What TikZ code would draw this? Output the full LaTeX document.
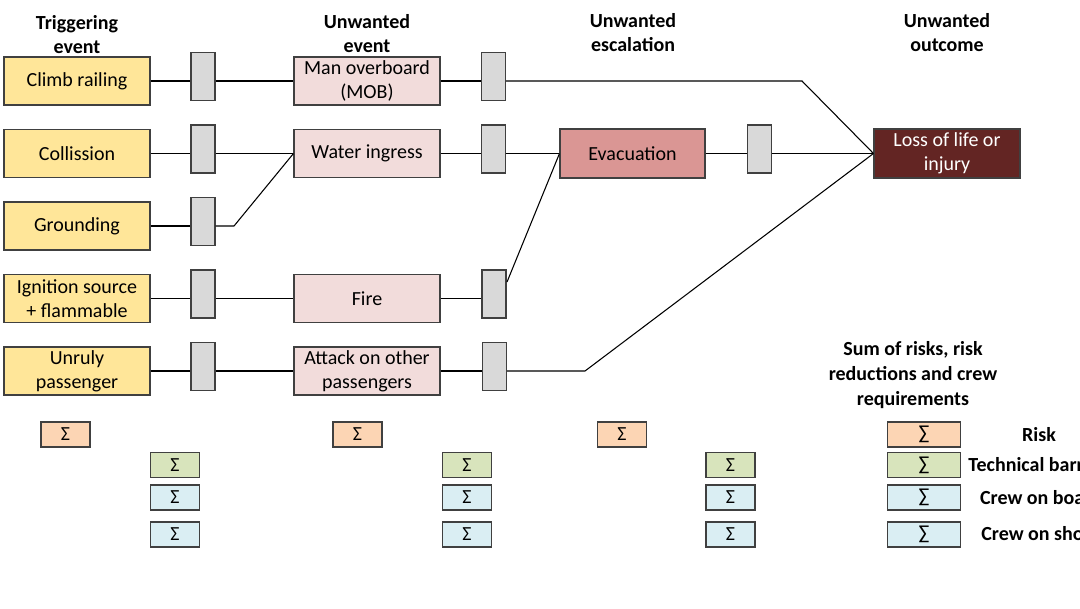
\documentclass[tikz,border=0pt]{standalone}
\usepackage{fontspec}
\setmainfont{Carlito}
\begin{document}
\begin{tikzpicture}[x=0.75pt,y=-0.75pt,
  every node/.style={font=\fontsize{15}{18}\selectfont, align=center, inner sep=0pt},
  bx/.style={draw=black!75, line width=0.8pt, rectangle},
  trig/.style={bx, fill=trigfill, minimum width=109.5pt, minimum height=36pt},
  uev/.style={bx, fill=uevfill, minimum width=109.5pt, minimum height=36pt},
  bar/.style={bx, fill=barfill, minimum width=18pt, minimum height=36pt},
  sig/.style={bx, minimum width=36.75pt, minimum height=18.75pt},
  sigr/.style={bx, minimum width=54.4pt, minimum height=18.75pt},
  hdr/.style={font=\fontsize{15}{18}\selectfont\bfseries},
  lbl/.style={font=\fontsize{15}{18}\selectfont\bfseries, anchor=center},
  ln/.style={line width=0.8pt, black}
]
\definecolor{trigfill}{HTML}{FFE699}
\definecolor{uevfill}{HTML}{F2DCDB}
\definecolor{barfill}{HTML}{D9D9D9}
\definecolor{evacfill}{HTML}{DA9694}
\definecolor{lossfill}{HTML}{632523}
\definecolor{riskfill}{HTML}{FCD5B4}
\definecolor{techfill}{HTML}{D8E4BC}
\definecolor{crewfill}{HTML}{DAEEF3}
\useasboundingbox (0,0) rectangle (1080,608);
\clip (0,0) rectangle (1080,608);

% headers
\node[hdr] (h1) at (77,35) {Triggering\\event};
\node[hdr] (h2) at (367,34) {Unwanted\\event};
\node[hdr] (h3) at (633,33) {Unwanted\\escalation};
\node[hdr] (h4) at (947,33) {Unwanted\\outcome};

% triggering events
\node[trig] (t1) at (77,81) {Climb railing};
\node[trig] (t2) at (77,153.5) {Collission};
\node[trig] (t3) at (77,226) {Grounding};
\node[trig] (t4) at (77,298.5) {Ignition source\\+ flammable};
\node[trig] (t5) at (77,371) {Unruly\\passenger};

% first barriers
\node[bar] (b11) at (203,76.5) {};
\node[bar] (b21) at (203,149) {};
\node[bar] (b31) at (203,221.5) {};
\node[bar] (b41) at (203,294) {};
\node[bar] (b51) at (203,366.5) {};

% unwanted events
\node[uev] (e1) at (367,81) {Man overboard\\(MOB)};
\node[uev] (e2) at (367,153.5) {Water ingress};
\node[uev] (e4) at (367,298.5) {Fire};
\node[uev] (e5) at (367,371) {Attack on other\\passengers};

% second barriers
\node[bar] (b12) at (493.5,76.5) {};
\node[bar] (b22) at (493.5,149) {};
\node[bar] (b42) at (494,294) {};
\node[bar] (b52) at (494.5,366.5) {};

% escalation
\node[bx, fill=evacfill, minimum width=108.75pt, minimum height=36.75pt] (ev) at (632.5,153.5) {Evacuation};
\node[bar] (b3) at (759.5,149) {};

% outcome
\node[bx, fill=lossfill, text=white, minimum width=109.5pt, minimum height=36.75pt] (loss) at (947,153.5) {Loss of life or\\injury};

% helper coordinates
\coordinate (k1) at (802,81);
\coordinate (k3) at (234,226);
\coordinate (k4) at (507,282);
\coordinate (k5) at (585,371);

% connectors row 1
\draw[ln] (t1.east) -- (t1.east -| b11.west);
\draw[ln] (t1.east -| b11.east) -- (e1.west);
\draw[ln] (e1.east) -- (e1.east -| b12.west);
\draw[ln] (e1.east -| b12.east) -- (k1) -- (loss.west);
% row 2
\draw[ln] (t2.east) -- (t2.east -| b21.west);
\draw[ln] (t2.east -| b21.east) -- (e2.west);
\draw[ln] (e2.east) -- (e2.east -| b22.west);
\draw[ln] (e2.east -| b22.east) -- (ev.west);
\draw[ln] (ev.east) -- (ev.east -| b3.west);
\draw[ln] (ev.east -| b3.east) -- (loss.west);
% row 3
\draw[ln] (t3.east) -- (t3.east -| b31.west);
\draw[ln] (t3.east -| b31.east) -- (k3) -- (e2.west);
% row 4
\draw[ln] (t4.east) -- (t4.east -| b41.west);
\draw[ln] (t4.east -| b41.east) -- (e4.west);
\draw[ln] (e4.east) -- (e4.east -| b42.west);
\draw[ln] (k4) -- (ev.west);
% row 5
\draw[ln] (t5.east) -- (t5.east -| b51.west);
\draw[ln] (t5.east -| b51.east) -- (e5.west);
\draw[ln] (e5.east) -- (e5.east -| b52.west);
\draw[ln] (e5.east -| b52.east) -- (k5) -- (loss.west);

% sums
\node[sig, fill=riskfill] (s1r) at (65.5,434.5) {Σ};
\node[sig, fill=techfill] (s1t) at (175,465) {Σ};
\node[sig, fill=crewfill] (s1b) at (175,497.5) {Σ};
\node[sig, fill=crewfill] (s1s) at (175,534.5) {Σ};

\node[sig, fill=riskfill] (s2r) at (357.5,434.5) {Σ};
\node[sig, fill=techfill] (s2t) at (467,465) {Σ};
\node[sig, fill=crewfill] (s2b) at (467,497.5) {Σ};
\node[sig, fill=crewfill] (s2s) at (467,534.5) {Σ};

\node[sig, fill=riskfill] (s3r) at (622,434.5) {Σ};
\node[sig, fill=techfill] (s3t) at (730.5,465) {Σ};
\node[sig, fill=crewfill] (s3b) at (730.5,497.5) {Σ};
\node[sig, fill=crewfill] (s3s) at (730.5,534.5) {Σ};

\node[hdr, font=\fontsize{15}{18.75}\selectfont\bfseries] (sumh) at (913,375) {Sum of risks, risk\\reductions and crew\\requirements};
\node[sigr, fill=riskfill] (s4r) at (924,434.5) {∑};
\node[sigr, fill=techfill] (s4t) at (924,465) {∑};
\node[sigr, fill=crewfill] (s4b) at (924,497.5) {∑};
\node[sigr, fill=crewfill] (s4s) at (924,534.5) {∑};

\node[lbl] (l1) at (1039,435) {Risk};
\node[lbl] (l2) at (1041,465) {Technical barriers};
\node[lbl] (l3) at (1041,497.5) {Crew on board};
\node[lbl] (l4) at (1041,534) {Crew on shore};
\end{tikzpicture}
\end{document}
